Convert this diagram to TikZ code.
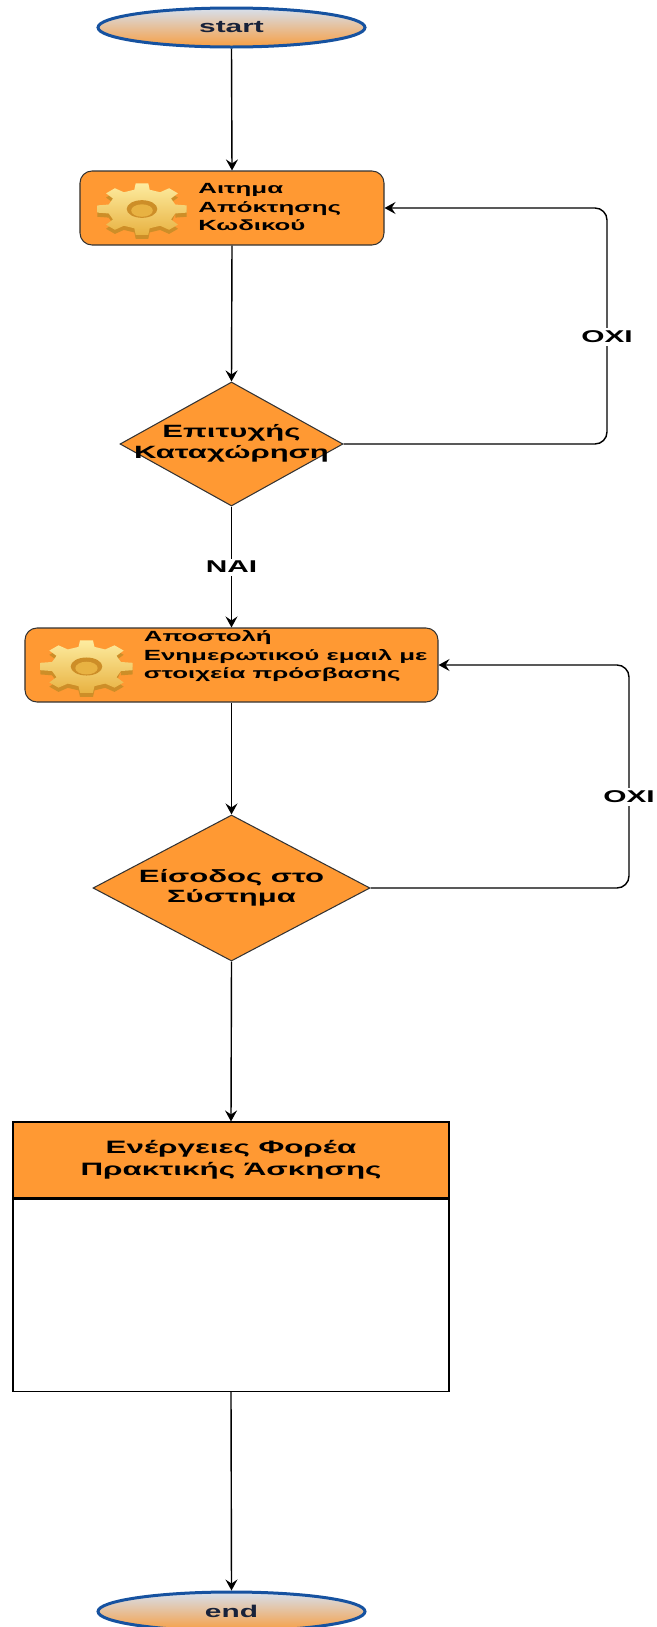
\documentclass[tikz,border=0pt]{standalone}
\usepackage{fontspec}
\newfontfamily\flowfont[FakeStretch=1.75]{Liberation Sans}
\usetikzlibrary{shapes.geometric,arrows.meta,positioning}

\definecolor{flowfill}{RGB}{255,153,51}
\definecolor{termblue}{RGB}{22,82,160}
\definecolor{termtop}{RGB}{214,224,238}
\definecolor{termbot}{RGB}{247,158,66}
\definecolor{termtext}{RGB}{24,34,58}
\definecolor{cogtop}{RGB}{253,236,160}
\definecolor{cogbot}{RGB}{232,178,66}
\definecolor{cogside}{RGB}{205,142,40}

\tikzset{
  flow/.style={draw=black, line width=0.8pt, -{Stealth[length=2.2mm,width=2.4mm,inset=0.8mm]}},
  loopflow/.style={flow, rounded corners=2.4mm},
  terminal/.style={ellipse, draw=termblue, line width=0.6mm, top color=termtop, bottom color=termbot,
    minimum width=53.4mm, minimum height=7.8mm, inner sep=0pt, text=termtext,
    font=\flowfont\bfseries\fontsize{9.7}{11}\selectfont},
  process/.style={rectangle, rounded corners=2.4mm, draw=black!80, line width=0.6pt, fill=flowfill,
    minimum height=14.8mm, inner sep=0pt},
  proctext/.style={anchor=west, align=left, inner sep=0pt,
    font=\flowfont\bfseries\fontsize{8.4}{10.5}\selectfont},
  decision/.style={diamond, draw=black!80, line width=0.6pt, fill=flowfill, inner sep=0pt,
    font=\flowfont\bfseries\fontsize{10.1}{11.4}\selectfont},
  swimhead/.style={rectangle, draw=black, line width=0.6pt, fill=flowfill, minimum width=87.2mm,
    minimum height=15.2mm, inner sep=0pt, align=center,
    font=\flowfont\bfseries\fontsize{10.2}{12.5}\selectfont},
  swimbody/.style={rectangle, draw=black, line width=0.6pt, fill=white, minimum width=87.2mm,
    minimum height=38.4mm},
  answer/.style={fill=white, inner sep=1.5pt, font=\flowfont\bfseries\fontsize{9.7}{11}\selectfont},
  cogicon/.pic={
    \fill[cogside] (-13:0.76) \foreach \a in {0,45,...,315} {
      -- ([shift={(0,-0.16)}]\a-13:0.76) -- ([shift={(0,-0.16)}]\a-8:1) -- ([shift={(0,-0.16)}]\a+8:1) -- ([shift={(0,-0.16)}]\a+13:0.76)} -- cycle;
    \path[top color=cogtop, bottom color=cogbot] (-13:0.76) \foreach \a in {0,45,...,315} {
      -- (\a-13:0.76) -- (\a-8:1) -- (\a+8:1) -- (\a+13:0.76)} -- cycle;
    \fill[cogside] (0,0) circle (0.34);
    \fill[cogbot] (0,-0.06) circle (0.24);
  }
}

\begin{document}
\begin{tikzpicture}[x=0.2mm, y=-0.2mm]
    \useasboundingbox (0,0) rectangle (656,1627);

    % start / end
    \node[terminal] (start) at (231.5,27.5) {start};
    \node[terminal] (end) at (231.5,1611.5) {end};

    % first step
    \node[process, minimum width=60.8mm] (request) at (232,208) {};
    \pic[xscale=45, yscale=-26] at (142,209) {cogicon};
    \node[proctext] (requesttext) at (198,207) {Αιτημα\\Απόκτησης\\Κωδικού};
    \node[decision, minimum width=44.6mm, minimum height=24.8mm] (registered) at (231.5,444)
        {\makebox[0pt]{\begin{tabular}{@{}c@{}}Επιτυχής\\Καταχώρηση\end{tabular}}};

    % second step
    \node[process, minimum width=82.6mm] (notify) at (231.5,665) {};
    \pic[xscale=46.5, yscale=-26.5] at (86.5,666.5) {cogicon};
    \node[proctext] (notifytext) at (143.5,656) {Αποστολή\\Ενημερωτικού εμαιλ με\\στοιχεία πρόσβασης};
    \node[decision, minimum width=55.4mm, minimum height=29.2mm] (login) at (231.5,888)
        {\makebox[0pt]{\begin{tabular}{@{}c@{}}Είσοδος στο\\Σύστημα\end{tabular}}};

    % container
    \node[swimhead] (actions) at (231,1160) {Ενέργειες Φορέα\\Πρακτικής Άσκησης};
    \node[swimbody, below=0pt of actions] (actionsbody) {};

    \coordinate (loopA) at (607,208);
    \coordinate (loopB) at (629,665);

    \draw[flow] (start.south) -- (request.north);
    \draw[flow] (request.south) -- (registered.north);
    \draw[flow] (registered.south) -- (notify.north);
    \draw[flow] (notify.south) -- (login.north);
    \draw[flow] (login.south) -- (actions.north);
    \draw[flow] (actionsbody.south) -- (end.north);
    \draw[loopflow] (registered.east) -| (loopA) -- (request.east); % back to request
    \draw[loopflow] (login.east) -| (loopB) -- (notify.east); % back to email

    % answers on the lines
    \node[answer] (yes) at (231.5,567) {ΝΑΙ};
    \node[answer] (noA) at (607,337) {ΟΧΙ};
    \node[answer] (noB) at (629,797) {ΟΧΙ};
\end{tikzpicture}
\end{document}
